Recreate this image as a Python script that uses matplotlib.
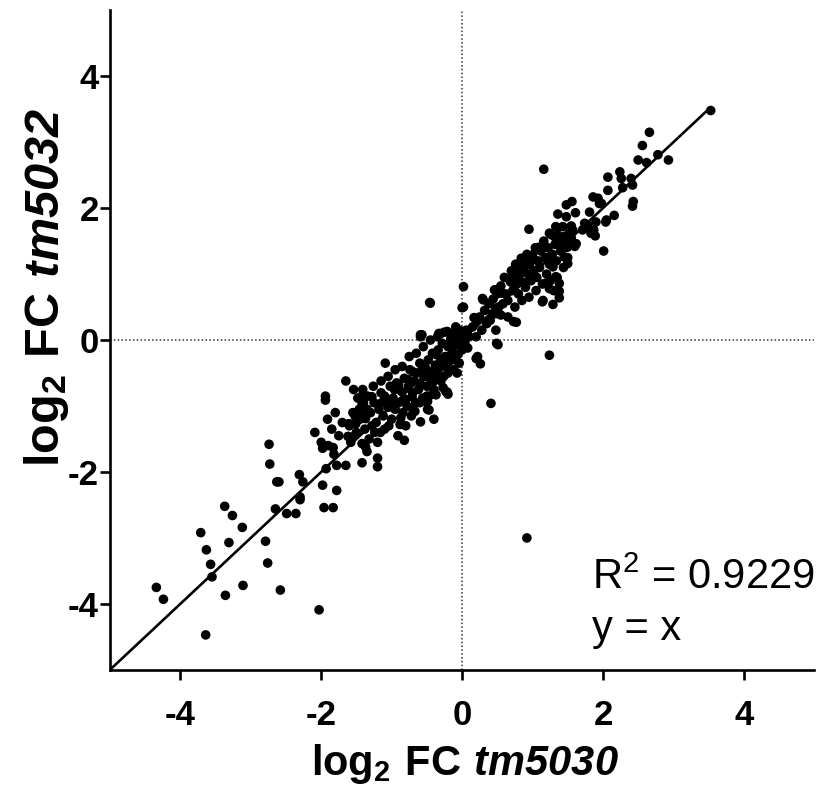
import numpy as np
import matplotlib
matplotlib.use('Agg')
import matplotlib.pyplot as plt

plt.rcParams['font.family'] = 'Liberation Sans'
plt.rcParams['axes.unicode_minus'] = False
plt.rcParams['mathtext.fontset'] = 'custom'
plt.rcParams['mathtext.rm'] = 'Liberation Sans:bold'
plt.rcParams['mathtext.sf'] = 'Liberation Sans:bold:italic'
plt.rcParams['mathtext.bf'] = 'Liberation Sans:bold'

# lower tail, x < -1.2
tail_x = [-3.37, -3.26, -3.12, -3.71, -3.31, -3.63, -3.57, -3.55, -4.34, -4.24,
          -3.36, -3.11, -3.64, -2.79, -2.76, -2.58, -2.03, -2.65, -2.49, -2.36,
          -2.30, -1.96, -1.83, -2.74, -2.73, -2.63, -2.31, -2.26, -2.30, -2.09,
          -1.91, -1.94, -1.98, -1.83, -1.82, -1.93, -1.78, -1.65, -1.98, -1.78,
          -1.62, -1.61, -1.94, -1.65, -1.54, -1.60, -1.51, -1.56, -2.60, -1.20,
          -1.20, -1.42, -1.42, -1.37, -1.35, -1.43, -1.37, -1.41, -1.41, -1.28,
          -1.42]
tail_y = [-2.52, -2.66, -2.84, -2.92, -3.07, -3.18, -3.40, -3.59, -3.75, -3.93,
          -3.87, -3.72, -4.47, -3.05, -3.38, -3.79, -4.09, -2.56, -2.63, -2.63,
          -2.42, -2.54, -2.54, -1.58, -1.88, -2.15, -2.04, -2.15, -2.38, -1.40,
          -1.20, -0.91, -1.64, -1.63, -1.73, -1.95, -1.90, -1.90, -2.20, -2.28,
          -1.46, -1.27, -0.85, -0.62, -0.75, -1.27, -1.27, -1.47, -2.15, -1.79,
          -1.92, -1.86, -1.57, -1.62, -1.69, -1.15, -1.19, -0.75, -0.83, -0.86,
          -0.98]

# dense middle band, -2 .. 0.1
mid_x = [-1.09, -0.91, -0.82, -0.59, -0.40, -0.71, -0.52, -0.47, -0.37, -0.23,
         -0.59, -0.33, -0.45, 0.00, -0.57, -0.30, -0.09, 0.00, 0.10, -0.49,
         -0.49, 0.20, -0.21, -0.59, -0.21, -0.09, -0.04, -0.20,
         -1.30, -1.25, -1.22, -1.18, -1.15, -1.12, -1.10, -1.08, -1.05, -1.02,
         -1.00, -0.98, -0.95, -0.93, -0.90, -0.88, -0.86, -0.84, -0.82, -0.80,
         -0.78, -0.76, -0.74, -0.72, -0.70, -0.68, -0.66, -0.64, -0.62, -0.60,
         -0.58, -0.56, -0.54, -0.52, -0.50, -0.48, -0.46, -0.44, -0.42, -0.40,
         -0.38, -0.36, -0.34, -0.32, -0.30, -0.28, -0.26, -0.24, -0.22, -0.20,
         -0.18, -0.16, -0.14, -0.12, -0.10, -0.08, -0.06, -0.04, -0.02, 0.00,
         0.02, 0.04, 0.06,
         -1.60, -1.55, -1.50, -1.45, -1.40, -1.38, -1.35, -1.32, -1.28, -1.26,
         -1.20, -1.16, -1.48, -1.58, -1.70, -1.75, -1.80, -1.85, -1.90, -2.00,
         -1.05, -0.95, -0.85, -0.75, -0.65, -0.55, -0.45, -0.35, -0.25, -1.15,
         -0.90, -0.70, -0.60, -0.50, -0.40, -0.30, -0.20, -0.10, -0.80, -0.70,
         -1.00, -1.10,
         -1.34, -1.24, -1.14, -1.04, -0.96, -0.87, -0.77, -0.67, -0.57, -0.47,
         -0.37, -0.27, -0.17, -0.07, -1.46, -1.52, -0.13, 0.08]
mid_y = [-0.35, -1.45, -1.52, -1.24, -1.20, -0.86, -0.93, -1.06, -0.83, -0.78,
         0.08, 0.10, 0.56, 0.49, 0.08, 0.10, 0.00, -0.05, 0.05, -0.93,
         -1.05, -0.28, -0.79, 0.05, 0.13, 0.20, 0.15, -0.82,
         -1.10, -0.95, -1.25, -1.05, -0.80, -1.15, -1.35, -0.92, -1.02, -0.70,
         -1.20, -0.88, -1.05, -0.65, -0.95, -1.28, -0.78, -1.10, -0.58, -0.90,
         -1.00, -0.70, -0.45, -1.15, -0.80, -0.62, -0.95, -0.50, -0.75, -0.35,
         -0.68, -0.88, -0.55, -0.42, -0.70, -0.30, -0.58, -0.48, -0.20, -0.62,
         -0.38, -0.52, -0.15, -0.42, -0.30, -0.05, -0.55, -0.25, -0.40, -0.10,
         -0.32, 0.02, -0.20, -0.45, -0.08, 0.05, -0.22, -0.35, 0.00, -0.15,
         0.08, -0.05, 0.15,
         -1.30, -1.10, -1.40, -1.20, -0.95, -1.35, -1.05, -1.50, -1.30, -0.70,
         -1.55, -1.40, -0.88, -1.55, -1.25, -1.45, -1.10, -1.35, -1.60, -1.55,
         -0.55, -0.45, -0.40, -0.25, -0.20, -0.10, 0.00, 0.05, 0.12, -0.62,
         -0.68, -0.48, -0.95, -0.85, -0.75, -0.62, -0.50, -0.30, -1.30, -1.05,
         -0.95, -0.85,
         -0.85, -1.40, -0.95, -1.30, -0.75, -1.18, -0.60, -1.08, -0.45, -0.85,
         -0.22, -0.72, -0.05, -0.50, -1.05, -1.15, 0.10, -0.12]

# upper band, 0 .. 3.5, plus right-hand outliers
up_x = [0.02, 0.02, -0.46, 0.30, 0.46, 0.17, 0.22, 0.48, 0.43, 0.55,
        0.73, 0.48, 0.49, 0.22, 0.26, 0.41, 1.14, 1.24, 1.29, 1.38,
        1.38, 0.77, 0.51, 0.92, 0.95, 1.16, 2.01, 3.53,
        2.07, 2.24, 2.26, 2.40, 2.42, 2.28, 2.07, 2.43, 2.42, 2.56,
        2.66, 2.50, 2.62, 2.78, 2.93, 2.16, 2.04, 1.78, 1.87, 1.89,
        1.33, 1.43, 1.55, 1.24, 1.31, 1.60, 1.45, 1.50, 1.45, 1.50,
        1.10, 1.00, 0.91, 0.84, 0.79, 0.72, 0.69, 1.24, 1.29, 1.33,
        1.38, 1.36, 1.19, 1.24, 0.48, 0.29, 0.57, 1.86, 1.93, 1.98,
        1.48, 1.56, 1.36, 1.48, 1.61, 1.74, 1.57, 1.48, 1.43, 1.57,
        1.81, 1.95, 1.90, 2.05, 1.71, 1.83, 1.62, 1.52, 1.38,
        0.15, 0.20, 0.25, 0.28, 0.32, 0.35, 0.38, 0.40, 0.44, 0.48,
        0.50, 0.52, 0.55, 0.58, 0.60, 0.62, 0.65, 0.68, 0.70, 0.72,
        0.74, 0.76, 0.78, 0.80, 0.82, 0.84, 0.86, 0.88, 0.90, 0.92,
        0.94, 0.96, 0.98, 1.00, 1.02, 1.04, 1.06, 1.08, 1.10, 1.12,
        1.14, 1.16, 1.18, 1.20, 1.22, 1.24, 1.26, 1.28, 1.30, 1.32,
        1.34, 1.36, 1.40, 1.42, 1.44, 1.46, 1.50, 1.55,
        0.85, 0.95, 1.05, 0.75, 0.65, 1.25, 1.35, 1.15]
up_y = [0.81, 0.50, 0.57, 0.61, 0.76, 0.34, 0.30, 0.48, 0.40, 0.38,
        0.28, 0.15, -0.05, -0.25, -0.36, -0.96, 0.58, -0.23, 0.54, 0.74,
        0.64, 0.27, -0.07, -3.00, 1.68, 2.59, 1.35, 3.48,
        2.47, 2.55, 2.45, 2.45, 2.35, 2.31, 2.27, 2.10, 2.03, 2.95,
        3.15, 2.73, 2.69, 2.81, 2.73, 1.89, 1.79, 1.74, 1.67, 1.58,
        1.72, 1.72, 1.73, 1.62, 1.57, 1.42, 1.57, 1.41, 1.26, 1.16,
        1.41, 1.29, 1.21, 1.24, 1.11, 1.01, 0.88, 1.26, 1.11, 0.96,
        0.86, 0.73, 0.86, 0.78, 0.76, 0.63, 0.71, 2.17, 2.15, 2.07,
        2.05, 2.10, 1.91, 1.87, 1.93, 1.77, 1.67, 1.57, 1.47, 1.47,
        1.94, 2.07, 1.79, 1.82, 1.67, 1.62, 1.46, 1.62, 1.57,
        0.20, 0.05, 0.35, 0.15, 0.45, 0.25, 0.55, 0.30, 0.62, 0.40,
        0.70, 0.50, 0.82, 0.55, 0.95, 0.70, 0.60, 0.90, 1.05, 0.75,
        0.85, 1.15, 0.95, 0.70, 1.00, 1.20, 0.88, 1.10, 0.80, 1.30,
        1.00, 1.15, 0.90, 1.25, 1.05, 1.40, 0.95, 1.20, 1.10, 1.35,
        0.85, 1.50, 1.25, 1.00, 1.40, 1.15, 1.60, 1.30, 0.75, 1.45,
        1.20, 1.70, 1.35, 1.55, 1.10, 1.40, 1.25, 1.55,
        0.60, 0.65, 0.75, 0.50, 0.35, 0.90, 0.95, 0.60]

fit_x = [-5, 3.5]
ticks = [-4, -2, 0, 2, 4]
x_label = r'$\mathrm{log_2\ FC}\ \mathsf{tm5030}$'
y_label = r'$\mathrm{log_2\ FC}\ \mathsf{tm5032}$'
r2_text = r'R$^{\mathregular{2}}$ = 0.9229'
eq_text = 'y = x'

x = np.array(tail_x + mid_x + up_x)
y = np.array(tail_y + mid_y + up_y)

fig = plt.figure(figsize=(8.2, 7.89), dpi=100)
ax = fig.add_axes([0.134, 0.151, 0.859, 0.836])

ax.axvline(0, color='#333333', lw=1.1, ls=(0, (1, 1.5)), zorder=1)
ax.axhline(0, color='#333333', lw=1.1, ls=(0, (1, 1.5)), zorder=1)
ax.scatter(x, y, s=48, color='black', edgecolors='none', zorder=3)
ax.plot(fit_x, fit_x, color='black', lw=1.9, zorder=2)

ax.set_xlim(-5, 5)
ax.set_ylim(-5, 5)
ax.set_xticks(ticks)
ax.set_yticks(ticks)
for s in ['top', 'right']:
    ax.spines[s].set_visible(False)
for s in ['left', 'bottom']:
    ax.spines[s].set_linewidth(1.9)
ax.tick_params(width=1.9, length=7, labelsize=25)
ax.tick_params(axis='x', pad=14)
ax.tick_params(axis='y', pad=1)
for lab in ax.get_xticklabels() + ax.get_yticklabels():
    lab.set_fontweight('bold')

ax.set_xlabel(x_label, fontsize=30)
ax.set_ylabel(y_label, fontsize=35)
ax.xaxis.set_label_coords(0.504, -0.11)
ax.yaxis.set_label_coords(-0.055, 0.58)

ax.text(1.85, -3.77, r2_text, fontsize=30, ha='left', va='baseline')
ax.text(1.85, -4.55, eq_text, fontsize=30, ha='left', va='baseline')

fig.savefig('out.png', dpi=100)
